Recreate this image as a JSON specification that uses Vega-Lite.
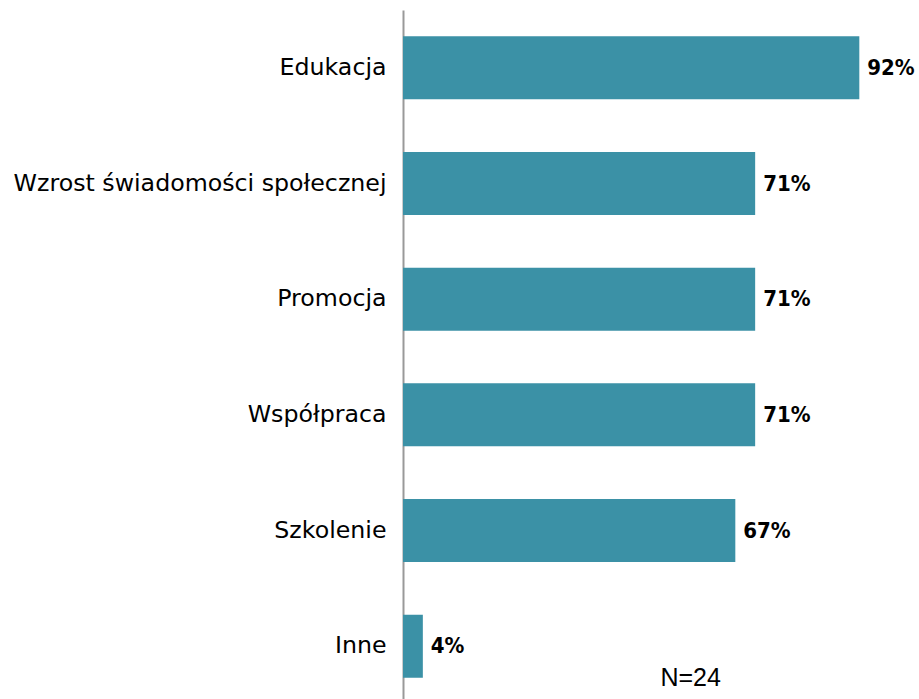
{
  "$schema": "https://vega.github.io/schema/vega-lite/v6.json",
  "autosize": {"type": "none"},
  "padding": {"left": 403, "top": 10, "right": 20, "bottom": 0},
  "width": 496,
  "height": 694,
  "background": "white",
  "config": {"view": {"stroke": null}},
  "datasets": {
    "bars": [
      {"kategoria": "Edukacja", "procent": 92, "etykieta": "92%"},
      {"kategoria": "Wzrost świadomości społecznej", "procent": 71, "etykieta": "71%"},
      {"kategoria": "Promocja", "procent": 71, "etykieta": "71%"},
      {"kategoria": "Współpraca", "procent": 71, "etykieta": "71%"},
      {"kategoria": "Szkolenie", "procent": 67, "etykieta": "67%"},
      {"kategoria": "Inne", "procent": 4, "etykieta": "4%"}
    ],
    "note": [{"kategoria": "Inne", "procent": 58, "tekst": "N=24"}]
  },
  "layer": [
    {
      "data": {"name": "bars"},
      "mark": {"type": "bar", "color": "#3B91A6"},
      "encoding": {
        "y": {"field": "kategoria", "type": "nominal",
              "sort": ["Edukacja", "Wzrost świadomości społecznej", "Promocja", "Współpraca", "Szkolenie", "Inne"],
              "scale": {"paddingInner": 0.455, "paddingOuter": 0.2275},
              "axis": {"title": null, "ticks": false, "labelFont": "DejaVu Sans", "labelFontSize": 23.7, "labelColor": "#000000", "labelPadding": 17, "domainColor": "#999999", "domainWidth": 2, "labelLimit": 500}},
        "x": {"field": "procent", "type": "quantitative", "scale": {"domain": [0, 100]}, "axis": null}
      }
    },
    {
      "data": {"name": "bars"},
      "mark": {"type": "text", "align": "left", "dx": 8, "font": "DejaVu Sans Condensed", "fontSize": 22, "fontWeight": "bold", "color": "#000000"},
      "encoding": {
        "y": {"field": "kategoria", "type": "nominal",
              "sort": ["Edukacja", "Wzrost świadomości społecznej", "Promocja", "Współpraca", "Szkolenie", "Inne"]},
        "x": {"field": "procent", "type": "quantitative"},
        "text": {"field": "etykieta", "type": "nominal"}
      }
    },
    {
      "data": {"name": "note"},
      "mark": {"type": "text", "align": "center", "baseline": "alphabetic", "dy": 40, "font": "Liberation Sans", "fontSize": 25, "color": "#000000"},
      "encoding": {
        "y": {"field": "kategoria", "type": "nominal",
              "sort": ["Edukacja", "Wzrost świadomości społecznej", "Promocja", "Współpraca", "Szkolenie", "Inne"]},
        "x": {"field": "procent", "type": "quantitative"},
        "text": {"field": "tekst", "type": "nominal"}
      }
    }
  ]
}
